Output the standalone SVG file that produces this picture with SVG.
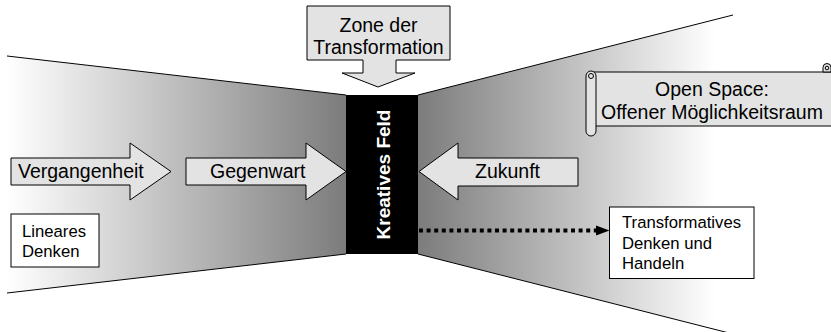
<svg xmlns="http://www.w3.org/2000/svg" width="831" height="332" viewBox="0 0 831 332">
  <defs>
    <linearGradient id="fadeLeft" gradientUnits="userSpaceOnUse" x1="7" y1="0" x2="346" y2="0">
      <stop offset="0" stop-color="#ffffff"/>
      <stop offset="1" stop-color="#7c7c7c"/>
    </linearGradient>
    <linearGradient id="fadeRight" gradientUnits="userSpaceOnUse" x1="418" y1="0" x2="715" y2="0">
      <stop offset="0" stop-color="#7c7c7c"/>
      <stop offset="1" stop-color="#ffffff"/>
    </linearGradient>
  </defs>
  <style>
    .edge { fill: none; stroke: #000; stroke-width: 1; }
    .arrow { fill: #e3e3e3; stroke: #000; stroke-width: 1; }
    .box { fill: #ffffff; stroke: #000; stroke-width: 1; }
    .lbl { font-family: "Liberation Sans", Arial, sans-serif; font-size: 19.5px; fill: #000; }
    .small { font-family: "Liberation Sans", Arial, sans-serif; font-size: 16.7px; fill: #000; }
    .core { font-family: "Liberation Sans", Arial, sans-serif; font-size: 19px; font-weight: bold; fill: #fff; }
    .dots { fill: none; stroke: #000; stroke-width: 4; stroke-dasharray: 4 3.6; }
  </style>

  <!-- narrowing field on the left, widening field on the right -->
  <g id="funnel">
    <polygon points="7,56 346,95 346,254 7,293" fill="url(#fadeLeft)"/>
    <polygon points="418,95 733,15 733,334 418,254" fill="url(#fadeRight)"/>
    <line class="edge" x1="7" y1="56" x2="346" y2="95"/>
    <line class="edge" x1="7" y1="293" x2="346" y2="254"/>
    <line class="edge" x1="418" y1="95" x2="733" y2="15"/>
    <line class="edge" x1="418" y1="254" x2="733" y2="334"/>
  </g>

  <g id="kreatives-feld">
    <rect x="346" y="95" width="72" height="159" fill="#000"/>
    <text class="core" transform="translate(389.5,174.5) rotate(-90)" text-anchor="middle">Kreatives Feld</text>
  </g>

  <g id="zone">
    <path class="arrow" d="M307,6 H450 V60 H396 V73 H415 L378,87 L342,73 H363 V60 H307 Z"/>
    <text class="lbl" x="378.5" y="32" text-anchor="middle">Zone der</text>
    <text class="lbl" x="378.5" y="54" text-anchor="middle">Transformation</text>
  </g>

  <g id="vergangenheit">
    <path class="arrow" d="M11,158 H130 V143 L171,171.5 L130,200 V185 H11 Z"/>
    <text class="lbl" x="18" y="178">Vergangenheit</text>
  </g>

  <g id="gegenwart">
    <path class="arrow" d="M186,158 H306 V143 L346,171.5 L306,200 V185 H186 Z"/>
    <text class="lbl" x="210" y="178">Gegenwart</text>
  </g>

  <g id="zukunft">
    <path class="arrow" d="M578,158 H458 V143 L419,171.5 L458,200 V186 H578 Z"/>
    <text class="lbl" x="475" y="178">Zukunft</text>
  </g>

  <g id="open-space">
    <!-- scroll body -->
    <rect class="arrow" x="594" y="72" width="250" height="54"/>
    <!-- top-right curl -->
    <path class="arrow" d="M823,72 V67.5 A4,4 0 0 1 831,67.5 V72 Z"/>
    <circle cx="827" cy="68" r="1.8" fill="none" stroke="#000" stroke-width="1"/>
    <!-- left roll -->
    <path class="arrow" d="M586,76 A5,5 0 0 1 596,76 V131 A5,5 0 0 1 586,131 Z"/>
    <circle cx="591" cy="76" r="2.5" fill="none" stroke="#000" stroke-width="1"/>
    <text class="lbl" x="712" y="96" text-anchor="middle">Open Space:</text>
    <text class="lbl" x="712" y="118.5" text-anchor="middle">Offener Möglichkeitsraum</text>
  </g>

  <g id="lineares-denken">
    <rect class="box" x="11" y="214" width="88" height="53"/>
    <text class="small" x="22" y="236.5">Lineares</text>
    <text class="small" x="22" y="256.5">Denken</text>
  </g>

  <g id="transformatives-denken">
    <rect class="box" x="609.5" y="207" width="144.5" height="71.5"/>
    <text class="small" x="622" y="228">Transformatives</text>
    <text class="small" x="622" y="248.5">Denken und</text>
    <text class="small" x="622" y="269">Handeln</text>
  </g>

  <g id="connectors">
    <line class="dots" x1="419" y1="230.5" x2="597" y2="230.5"/>
    <polygon points="596,225.5 609.5,230.5 596,235.5" fill="#000"/>
  </g>
</svg>
